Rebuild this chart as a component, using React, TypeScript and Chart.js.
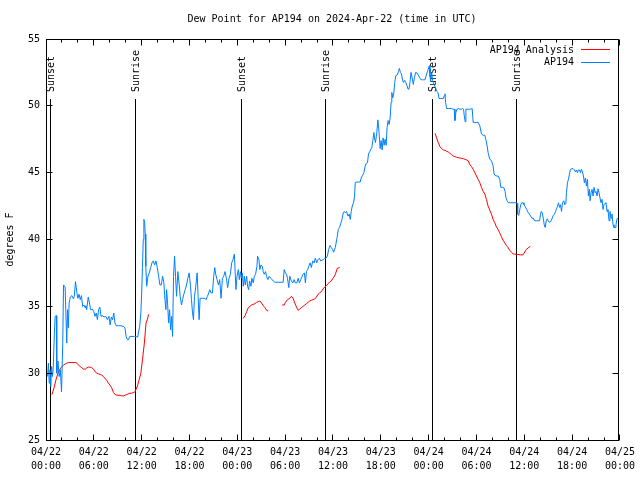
import React, { useEffect, useRef } from 'react';
import { Chart, registerables } from 'chart.js';

Chart.register(...registerables);

const FONT = "'DejaVu Sans Mono', 'Liberation Mono', monospace";

const TITLE = 'Dew Point for AP194 on 2024-Apr-22 (time in UTC)';
const Y_LABEL = 'degrees F';

const xTickDates = ['04/22', '04/22', '04/22', '04/22', '04/23', '04/23', '04/23', '04/23', '04/24', '04/24', '04/24', '04/24', '04/25'];
const xTickTimes = ['00:00', '06:00', '12:00', '18:00', '00:00', '06:00', '12:00', '18:00', '00:00', '06:00', '12:00', '18:00', '00:00'];

const sunEventHours = [0.55, 11.17, 24.5, 35.0, 48.5, 59.0];
const sunEventLabels = ['Sunset', 'Sunrise', 'Sunset', 'Sunrise', 'Sunset', 'Sunrise'];

const ANALYSIS_NAME = 'AP194 Analysis';
const STATION_NAME = 'AP194';
const ANALYSIS_COLOR = '#ff0000';
const STATION_COLOR = '#0080ff';

// AP194 observations: hours since 04/22 00:00 UTC, dew point (F)
const stationHours = [
  0.2, 0.3, 0.4, 0.5, 0.6, 0.7, 0.8, 0.9, 1.05, 1.15, 1.3, 1.35, 1.5, 1.65, 1.8, 1.95, 2.1, 2.2, 2.4, 2.6,
  2.7, 2.8, 2.9, 3.05, 3.25, 3.45, 3.55, 3.7, 3.85, 4.0, 4.15, 4.3, 4.45, 4.6, 4.75, 4.9, 5.0, 5.1, 5.3, 5.45,
  5.6, 5.8, 6.0, 6.15, 6.3, 6.45, 6.6, 6.75, 6.9, 7.05, 7.3, 7.5, 7.7, 7.9, 8.05, 8.2, 8.35, 8.5, 8.65, 8.8,
  9.1, 9.4, 9.7, 9.9, 10.05, 10.2, 10.35, 10.5, 10.8, 11.1, 11.5, 11.75, 11.9, 12.0, 12.1, 12.2, 12.28, 12.38, 12.45, 12.52,
  12.63, 12.79, 12.96, 13.13, 13.29, 13.46, 13.63, 13.79, 13.96, 14.13, 14.29, 14.46, 14.63, 14.79, 14.92, 15.04, 15.13, 15.25, 15.38, 15.5,
  15.63, 15.75, 15.88, 16.0, 16.13, 16.25, 16.38, 16.54, 16.71, 16.83, 17.0, 17.13, 17.29, 17.46, 17.63, 17.79, 17.96, 18.13, 18.25, 18.38,
  18.5, 18.63, 18.79, 18.96, 19.08, 19.21, 19.33, 19.63, 19.92, 20.08, 20.25, 20.42, 20.54, 20.71, 20.88, 21.04, 21.17, 21.29, 21.46, 21.63,
  21.79, 21.96, 22.13, 22.29, 22.46, 22.63, 22.79, 22.96, 23.13, 23.29, 23.46, 23.63, 23.83, 23.96, 24.13, 24.25, 24.38, 24.5, 24.63, 24.75,
  24.88, 25.0, 25.17, 25.29, 25.42, 25.54, 25.71, 25.83, 26.0, 26.13, 26.29, 26.46, 26.54, 26.71, 26.83, 26.96, 27.13, 27.25, 27.38, 27.54,
  27.67, 27.83, 28.0, 28.21, 28.5, 28.71, 29.13, 29.54, 29.75, 29.88, 30.04, 30.17, 30.29, 30.46, 30.58, 30.79, 30.96, 31.13, 31.29, 31.46,
  31.63, 31.79, 31.96, 32.13, 32.25, 32.42, 32.54, 32.67, 32.83, 32.96, 33.13, 33.29, 33.46, 33.63, 33.79, 33.96, 34.13, 34.29, 34.46, 34.63,
  34.79, 34.96, 35.13, 35.29, 35.46, 35.63, 35.79, 35.96, 36.08, 36.29, 36.5, 36.67, 36.83, 37.0, 37.13, 37.29, 37.42, 37.54, 37.71, 37.88,
  38.04, 38.17, 38.29, 38.42, 38.58, 38.71, 38.79, 39.0, 39.21, 39.42, 39.54, 39.71, 39.88, 40.04, 40.17, 40.33, 40.46, 40.63, 40.75, 40.88,
  41.0, 41.13, 41.21, 41.33, 41.5, 41.63, 41.71, 41.79, 41.92, 42.04, 42.17, 42.29, 42.42, 42.54, 42.67, 42.79, 42.92, 43.04, 43.17, 43.29,
  43.38, 43.5, 43.63, 43.75, 43.88, 44.04, 44.21, 44.33, 44.46, 44.58, 44.71, 44.83, 45.0, 45.13, 45.29, 45.42, 45.54, 45.67, 45.79, 45.96,
  46.08, 46.21, 46.38, 46.54, 46.71, 46.88, 47.04, 47.21, 47.38, 47.54, 47.71, 47.88, 48.09, 48.17, 48.25, 48.38, 48.5, 48.67, 48.84, 49.0,
  49.17, 49.3, 49.5, 49.67, 49.84, 49.96, 50.05, 50.13, 50.25, 50.5, 50.88, 51.09, 51.21, 51.3, 51.42, 51.55, 51.71, 51.92, 52.13, 52.26,
  52.38, 52.47, 52.59, 52.67, 52.88, 53.09, 53.3, 53.46, 53.59, 53.8, 54.01, 54.22, 54.42, 54.63, 54.84, 55.05, 55.17, 55.34, 55.46, 55.67,
  55.88, 56.09, 56.21, 56.42, 56.72, 56.92, 57.05, 57.25, 57.42, 57.59, 57.71, 57.84, 58.01, 58.26, 58.59, 58.92, 59.13, 59.17, 59.3, 59.42,
  59.55, 59.67, 59.84, 59.96, 60.13, 60.29, 60.46, 60.63, 60.79, 60.96, 61.13, 61.29, 61.5, 61.71, 61.92, 62.04, 62.13, 62.25, 62.38, 62.5,
  62.63, 62.75, 62.88, 63.0, 63.13, 63.25, 63.38, 63.5, 63.63, 63.79, 63.92, 64.04, 64.17, 64.29, 64.42, 64.54, 64.67, 64.79, 64.96, 65.09,
  65.21, 65.29, 65.42, 65.54, 65.67, 65.79, 65.96, 66.13, 66.29, 66.42, 66.54, 66.67, 66.79, 66.92, 67.04, 67.17, 67.29, 67.42, 67.54, 67.67,
  67.79, 67.92, 68.04, 68.17, 68.25, 68.38, 68.5, 68.63, 68.75, 68.88, 69.0, 69.13, 69.25, 69.38, 69.5, 69.63, 69.75, 69.88, 70.0, 70.13,
  70.25, 70.38, 70.5, 70.63, 70.75, 70.88, 71.0, 71.13, 71.25, 71.38, 71.5, 71.63, 71.75,
];
const stationDewPoint = [
  29.75, 30.75, 29.25, 30.25, 29.0, 30.5, 29.75, 30.25, 33.0, 34.25, 34.3, 30.0, 30.9, 29.75, 30.25, 28.6, 32.25, 36.6, 36.45, 32.25,
  34.75, 33.4, 35.25, 35.7, 35.8, 35.55, 35.75, 36.85, 36.1, 35.6, 35.9, 35.5, 35.8, 35.0, 35.1, 34.9, 35.05, 34.75, 35.7, 35.25,
  34.75, 34.8, 34.6, 34.25, 34.5, 34.0, 34.75, 34.95, 34.25, 34.3, 34.2, 34.25, 34.0, 34.25, 33.6, 34.2, 34.0, 34.5, 33.75, 33.55,
  33.55, 33.55, 33.5, 33.4, 32.75, 32.5, 32.5, 32.75, 32.75, 32.75, 32.7, 33.5, 34.5, 36.0, 37.9, 40.0, 41.5, 41.3, 40.4, 38.0,
  36.5, 37.25, 37.5, 37.9, 38.25, 38.4, 38.1, 38.4, 37.9, 37.25, 36.6, 36.6, 37.25, 36.75, 35.5, 34.75, 36.25, 35.25, 33.75, 34.75,
  33.25, 34.25, 32.75, 37.25, 38.75, 37.25, 35.75, 37.6, 36.6, 35.75, 35.1, 35.5, 35.9, 36.25, 36.6, 37.1, 37.5, 36.5, 35.5, 34.5,
  34.0, 35.75, 36.5, 37.5, 35.75, 34.0, 35.6, 35.6, 35.6, 35.5, 35.75, 36.0, 36.25, 36.0, 36.0, 37.25, 37.9, 37.4, 37.0, 36.6,
  37.0, 35.6, 37.1, 37.25, 37.6, 37.1, 36.4, 37.1, 37.4, 38.25, 38.5, 38.9, 36.25, 37.25, 37.75, 37.0, 37.6, 37.1, 37.5, 36.5,
  37.25, 36.6, 37.25, 36.5, 36.25, 36.9, 36.5, 37.1, 36.75, 37.25, 37.4, 38.0, 38.75, 38.5, 37.75, 38.1, 38.0, 37.6, 37.4, 37.6,
  37.25, 37.0, 37.25, 37.1, 36.9, 36.8, 36.8, 36.8, 36.8, 37.75, 37.5, 37.4, 37.1, 36.4, 37.25, 36.9, 36.75, 37.0, 36.75, 36.75,
  37.1, 36.75, 37.0, 37.25, 37.4, 37.5, 36.75, 37.6, 37.75, 38.0, 38.25, 37.9, 38.4, 38.25, 38.6, 38.25, 38.5, 38.6, 38.4, 38.45,
  38.5, 38.6, 38.6, 38.75, 39.25, 39.55, 39.4, 39.25, 39.05, 39.4, 40.1, 40.75, 40.9, 41.25, 41.5, 42.0, 42.1, 42.0, 42.1, 41.75,
  41.9, 41.5, 42.1, 42.5, 42.75, 43.25, 44.25, 44.3, 44.3, 44.3, 44.6, 44.8, 45.0, 45.5, 45.7, 45.75, 46.4, 46.6, 46.75, 46.9,
  47.4, 48.0, 47.6, 47.25, 48.0, 48.95, 48.5, 47.9, 46.8, 47.4, 46.7, 47.6, 47.05, 47.5, 47.05, 48.4, 48.9, 48.6, 49.1, 50.25,
  51.0, 50.6, 50.95, 51.75, 52.25, 52.3, 52.55, 52.8, 52.5, 52.4, 52.0, 51.75, 51.9, 51.75, 51.5, 51.25, 51.25, 51.8, 52.5, 52.0,
  51.6, 52.1, 52.5, 52.45, 52.3, 52.1, 51.95, 51.95, 51.95, 51.95, 52.3, 52.6, 53.0, 52.2, 51.8, 52.5, 51.9, 51.6, 51.4, 51.1,
  51.0, 50.55, 50.55, 50.55, 50.55, 50.75, 50.9, 50.25, 49.8, 49.8, 49.8, 49.75, 49.75, 48.9, 49.5, 49.75, 49.8, 49.75, 49.75, 49.8,
  49.75, 49.25, 48.8, 49.75, 49.75, 49.75, 49.75, 49.8, 48.75, 48.75, 48.75, 48.75, 48.5, 47.9, 47.8, 47.8, 47.5, 47.0, 46.5, 46.0,
  45.9, 45.5, 44.9, 44.75, 44.75, 44.5, 43.9, 43.9, 43.9, 43.6, 43.1, 42.9, 42.75, 42.75, 42.75, 42.75, 42.7, 41.9, 41.8, 42.2,
  42.6, 42.75, 42.75, 42.6, 42.45, 42.25, 42.05, 41.9, 41.75, 41.6, 41.6, 41.4, 41.4, 41.4, 41.4, 41.9, 42.1, 42.0, 41.6, 41.1,
  40.9, 41.4, 41.55, 41.4, 41.3, 41.3, 41.4, 41.6, 41.8, 41.9, 42.1, 42.3, 42.5, 42.75, 42.4, 42.6, 42.1, 42.75, 42.9, 42.6,
  42.7, 43.5, 44.25, 44.5, 44.9, 45.25, 45.3, 45.3, 45.2, 45.05, 45.2, 45.0, 45.2, 45.2, 45.0, 45.25, 45.05, 44.75, 44.25, 44.6,
  44.0, 44.5, 43.25, 43.75, 42.9, 43.5, 43.75, 43.25, 43.9, 43.5, 43.6, 43.25, 43.8, 43.5, 43.1, 42.75, 43.0, 42.25, 42.6, 42.7,
  42.75, 42.1, 42.25, 41.4, 42.1, 41.6, 41.9, 41.1, 40.9, 40.9, 41.1, 41.55, 41.6,
];

// AP194 Analysis: hours since 04/22 00:00 UTC, dew point (F); null = no analysis (gap)
const analysisHours = [
  0.75, 1.0, 1.25, 1.5, 1.75, 2.0, 2.21, 2.42, 2.63, 2.83, 3.25, 3.67, 3.88, 4.08, 4.29, 4.5, 4.71, 4.92, 5.13, 5.33,
  5.54, 5.75, 5.96, 6.17, 6.38, 6.58, 6.79, 7.0, 7.21, 7.42, 7.63, 7.83, 8.04, 8.25, 8.46, 8.67, 8.88, 9.29, 9.5, 9.71,
  9.92, 10.13, 10.33, 10.54, 10.75, 10.96, 11.17, 11.5, 11.9, 12.1, 12.34, 12.55, 12.7, 12.88,
  18.0,
  24.75, 24.96, 25.17, 25.38, 25.58, 25.79, 26.0, 26.21, 26.42, 26.63, 26.83, 27.04, 27.25, 27.46, 27.67, 27.88,
  28.8,
  29.63, 29.88, 30.04, 30.29, 30.58, 30.79, 31.0, 31.21, 31.42, 31.63, 31.83, 32.04, 32.25, 32.46, 32.67, 32.88, 33.08, 33.29, 33.5, 33.71,
  33.92, 34.13, 34.33, 34.54, 34.75, 34.96, 35.17, 35.38, 35.58, 35.79, 36.0, 36.13, 36.3, 36.55, 36.84,
  42.0,
  48.8, 49.0, 49.21, 49.42, 49.63, 49.84, 50.05, 50.25, 50.46, 50.67, 50.88, 51.09, 51.3, 51.5, 51.71, 51.92, 52.13, 52.34, 52.55, 52.75,
  52.96, 53.17, 53.38, 53.59, 53.8, 54.0, 54.21, 54.42, 54.63, 54.84, 55.05, 55.25, 55.46, 55.67, 55.88, 56.09, 56.3, 56.5, 56.71, 56.92,
  57.13, 57.34, 57.55, 57.75, 57.96, 58.17, 58.38, 58.59, 58.8, 59.0, 59.21, 59.5, 59.84, 60.25, 60.75,
];
const analysisDewPoint = [
  28.4, 28.9, 29.5, 30.0, 30.3, 30.5, 30.6, 30.7, 30.75, 30.8, 30.8, 30.8, 30.75, 30.6, 30.5, 30.4, 30.3, 30.3, 30.4, 30.45,
  30.45, 30.4, 30.3, 30.1, 30.0, 29.95, 29.9, 29.85, 29.75, 29.6, 29.45, 29.25, 29.1, 28.9, 28.55, 28.4, 28.35, 28.35, 28.3, 28.3,
  28.35, 28.4, 28.45, 28.5, 28.5, 28.55, 28.6, 29.1, 30.0, 31.0, 32.25, 33.75, 34.0, 34.4,
  null,
  34.1, 34.3, 34.6, 34.9, 35.0, 35.1, 35.15, 35.2, 35.3, 35.35, 35.4, 35.25, 35.05, 34.9, 34.7, 34.65,
  null,
  35.1, 35.1, 35.3, 35.5, 35.6, 35.75, 35.6, 35.25, 34.95, 34.7, 34.8, 34.9, 35.0, 35.1, 35.2, 35.3, 35.4, 35.45, 35.5, 35.55,
  35.7, 35.9, 36.0, 36.1, 36.3, 36.45, 36.55, 36.7, 36.8, 36.9, 37.1, 37.2, 37.4, 37.85, 37.9,
  null,
  47.95, 47.6, 47.25, 46.95, 46.8, 46.7, 46.67, 46.6, 46.55, 46.45, 46.35, 46.25, 46.2, 46.15, 46.12, 46.1, 46.07, 46.05, 46.0, 45.95,
  45.9, 45.6, 45.45, 45.25, 45.0, 44.75, 44.5, 44.25, 43.9, 43.6, 43.4, 43.0, 42.5, 42.2, 41.9, 41.5, 41.25, 40.95, 40.75, 40.5,
  40.2, 39.95, 39.75, 39.55, 39.4, 39.2, 39.05, 38.93, 38.9, 38.9, 38.88, 38.85, 38.85, 39.25, 39.5,
];

const Y_MIN = 25;
const Y_MAX = 55;
const Y_STEP = 5;
const X_MIN = 0;
const X_MAX = 72;
const X_MAJOR = 6;
const X_MINOR = 2;

const decorPlugin = {
  id: 'gnuplotDecor',
  beforeDraw(chart: any) {
    const ctx = chart.ctx;
    ctx.save();
    ctx.fillStyle = '#ffffff';
    ctx.fillRect(0, 0, chart.width, chart.height);
    ctx.restore();
  },
  beforeDatasetsDraw(chart: any) {
    const ctx = chart.ctx;
    const { bottom } = chart.chartArea;
    const xs = chart.scales.x;
    ctx.save();
    ctx.strokeStyle = '#000';
    ctx.lineWidth = 1;
    ctx.fillStyle = '#000';
    ctx.font = `10px ${FONT}`;
    sunEventHours.forEach((h, i) => {
      const px = Math.floor(xs.getPixelForValue(h)) + 0.5;
      ctx.beginPath();
      ctx.moveTo(px, 99);
      ctx.lineTo(px, bottom);
      ctx.stroke();
      ctx.save();
      ctx.translate(px + 0.5, 92);
      ctx.rotate(-Math.PI / 2);
      ctx.textAlign = 'left';
      ctx.textBaseline = 'middle';
      ctx.fillText(sunEventLabels[i], 0, 0);
      ctx.restore();
    });
    ctx.restore();
  },
  afterDraw(chart: any) {
    const ctx = chart.ctx;
    const { left, right, top, bottom } = chart.chartArea;
    const xs = chart.scales.x;
    const ys = chart.scales.y;
    ctx.save();
    ctx.strokeStyle = '#000';
    ctx.lineWidth = 1;
    const L = Math.floor(left) + 0.5;
    const R = Math.floor(right) - 0.5;
    const T = Math.floor(top) + 0.5;
    const B = Math.floor(bottom) + 0.5;
    ctx.strokeRect(L, T, R - L, B - T);
    ctx.beginPath();
    for (let h = X_MIN; h <= X_MAX; h += X_MINOR) {
      const len = h % X_MAJOR === 0 ? 6 : 3;
      const px = Math.floor(xs.getPixelForValue(h)) + 0.5;
      ctx.moveTo(px, B);
      ctx.lineTo(px, B - len);
      ctx.moveTo(px, T);
      ctx.lineTo(px, T + len);
    }
    for (let v = Y_MIN; v <= Y_MAX; v += Y_STEP) {
      const py = Math.floor(ys.getPixelForValue(v)) + 0.5;
      ctx.moveTo(L, py);
      ctx.lineTo(L + 6, py);
      ctx.moveTo(R, py);
      ctx.lineTo(R - 6, py);
    }
    ctx.stroke();
    ctx.restore();

    // title
    ctx.save();
    ctx.fillStyle = '#000';
    ctx.font = `10px ${FONT}`;
    ctx.textAlign = 'center';
    ctx.textBaseline = 'middle';
    ctx.fillText(TITLE, (left + right) / 2 - 1, 19);

    // legend (inside plot, top right)
    ctx.textAlign = 'right';
    ctx.fillText(ANALYSIS_NAME, 574, 50);
    ctx.fillText(STATION_NAME, 574, 62.5);
    ctx.fillStyle = ANALYSIS_COLOR;
    ctx.fillRect(581, 49, 29, 1);
    ctx.fillStyle = STATION_COLOR;
    ctx.fillRect(581, 62, 29, 1);
    ctx.restore();
  },
};

export default function App() {
  const ref = useRef<HTMLCanvasElement>(null);
  useEffect(() => {
    if (!ref.current) return;
    const stationData = stationHours.map((h, i) => ({ x: h, y: stationDewPoint[i] }));
    const analysisData = analysisHours.map((h, i) => ({ x: h, y: analysisDewPoint[i] }));
    const tickFont = { family: FONT, size: 10, lineHeight: 1.4 };
    const chart = new Chart(ref.current, {
      type: 'line',
      data: {
        datasets: [
          {
            label: STATION_NAME,
            data: stationData as any,
            borderColor: STATION_COLOR,
            backgroundColor: STATION_COLOR,
            borderWidth: 1,
            pointRadius: 0,
            tension: 0,
            order: 0,
          },
          {
            label: ANALYSIS_NAME,
            data: analysisData as any,
            borderColor: ANALYSIS_COLOR,
            backgroundColor: ANALYSIS_COLOR,
            borderWidth: 1,
            pointRadius: 0,
            tension: 0,
            spanGaps: false,
            order: 1,
          },
        ],
      },
      options: {
        responsive: false,
        animation: false,
        devicePixelRatio: 1,
        layout: { padding: { top: 39, right: 19, left: 0, bottom: 0 } },
        plugins: {
          legend: { display: false },
          title: { display: false },
          tooltip: { enabled: false },
        },
        scales: {
          x: {
            type: 'linear',
            min: X_MIN,
            max: X_MAX,
            afterFit: (s: any) => {
              s.height = 40;
            },
            grid: { display: false, drawTicks: false },
            border: { display: false },
            ticks: {
              stepSize: X_MAJOR,
              autoSkip: false,
              maxRotation: 0,
              minRotation: 0,
              padding: 5,
              color: '#000',
              font: tickFont,
              callback: (v: any) => {
                const i = Math.round(Number(v) / X_MAJOR);
                return [xTickDates[i], xTickTimes[i]];
              },
            },
          },
          y: {
            type: 'linear',
            min: Y_MIN,
            max: Y_MAX,
            afterFit: (s: any) => {
              s.width = 46;
            },
            grid: { display: false, drawTicks: false },
            border: { display: false },
            title: {
              display: true,
              text: Y_LABEL,
              color: '#000',
              font: { family: FONT, size: 10 },
              padding: { top: 4, bottom: 4 },
            },
            ticks: {
              stepSize: Y_STEP,
              padding: 6,
              color: '#000',
              font: { family: FONT, size: 10 },
            },
          },
        },
      },
      plugins: [decorPlugin],
    });
    return () => chart.destroy();
  }, []);
  return (
    <div style={{ position: 'absolute', left: 0, top: 0, width: 640, height: 480, background: '#fff' }}>
      <canvas ref={ref} width={640} height={480} style={{ display: 'block', width: 640, height: 480 }} />
    </div>
  );
}
